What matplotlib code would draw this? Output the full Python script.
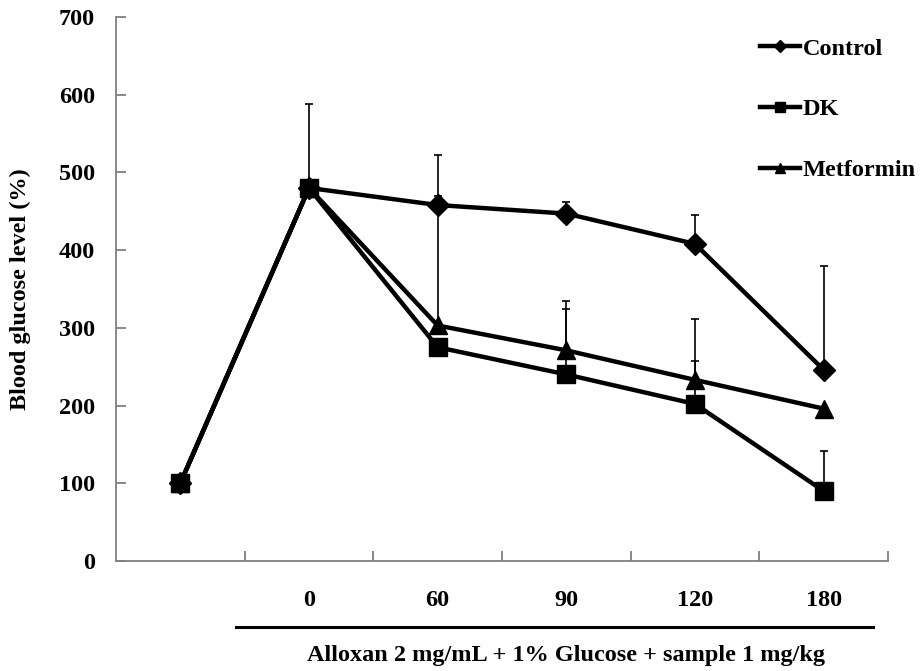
import numpy as np
import matplotlib
matplotlib.use('Agg')
import matplotlib.pyplot as plt

# category labels (first category has no label)
categories = ['', '0', '60', '90', '120', '180']

# series values (%)
control = [100, 480, 458, 447, 408, 246]
dk = [100, 480, 275, 240, 202, 90]
metformin = [100, 480, 303, 271, 233, 196]

# upper error bars
control_err = [0, 108, 64, 15, 37, 134]
dk_err = [0, 0, 0, 84, 55, 51]
metformin_err = [0, 0, 167, 63, 78, 0]

plt.rcParams['font.family'] = ['Liberation Serif', 'DejaVu Serif']
plt.rcParams['font.weight'] = 'bold'
fs = 17.5

fig = plt.figure(figsize=(9.22, 6.71), dpi=100)
ax = fig.add_axes([0.1258, 0.164, 0.8373, 0.8107])

x = np.arange(len(categories))

series = [
    ('Control', control, control_err, 'D', 11),
    ('Metformin', metformin, metformin_err, '^', 13),
    ('DK', dk, dk_err, 's', 13),
]
handles = {}
for name, vals, err, mk, ms in series:
    vals = np.array(vals, dtype=float)
    err = np.array(err, dtype=float)
    # error bars only upwards
    ax.errorbar(x, vals, yerr=[np.zeros_like(err), err], fmt='none',
                ecolor='black', elinewidth=1.2, capsize=3, capthick=1.2, zorder=2)
    line, = ax.plot(x, vals, color='black', lw=3.2, marker=mk, markersize=ms,
                    markerfacecolor='black', markeredgecolor='black', zorder=3, label=name)
    handles[name] = line

ax.set_xlim(-0.5, 5.5)
ax.set_ylim(0, 700)
ax.set_yticks(range(0, 701, 100))
ax.set_xticks(list(np.arange(0.5, 5.5, 1)) + [5.5])
ax.set_xticklabels([])
ax.set_xticks(x, minor=True)
ax.set_xticklabels(categories, minor=True)

for s in ['top', 'right']:
    ax.spines[s].set_visible(False)
for s in ['left', 'bottom']:
    ax.spines[s].set_color('#808080')
    ax.spines[s].set_linewidth(1.3)

ax.tick_params(axis='y', direction='in', length=7, width=1.3, color='#808080',
               labelsize=fs, pad=15)
ax.tick_params(axis='x', which='major', direction='in', length=7, width=1.3, color='#808080')
ax.tick_params(axis='x', which='minor', length=0, labelsize=fs, pad=21)

ax.set_ylabel('Blood glucose level (%)', fontsize=fs, fontweight='bold', labelpad=20)

# line under tick labels and x label
trans = ax.get_xaxis_transform()
ax.plot([0.43, 5.38], [-0.121, -0.121], color='black', lw=2.2, transform=trans, clip_on=False)
ax.text(3.0, -0.174, 'Alloxan 2 mg/mL + 1% Glucose + sample 1 mg/kg', transform=trans,
        ha='center', va='center', fontsize=fs, fontweight='bold')

leg = ax.legend([handles['Control'], handles['DK'], handles['Metformin']],
                ['Control', 'DK', 'Metformin'],
                loc='upper left', bbox_to_anchor=(0.822, 0.98), frameon=False,
                fontsize=fs, labelspacing=1.6, handlelength=1.65, handletextpad=0.1,
                markerscale=0.6, borderaxespad=0.0)

fig.savefig('out.png', dpi=100)
